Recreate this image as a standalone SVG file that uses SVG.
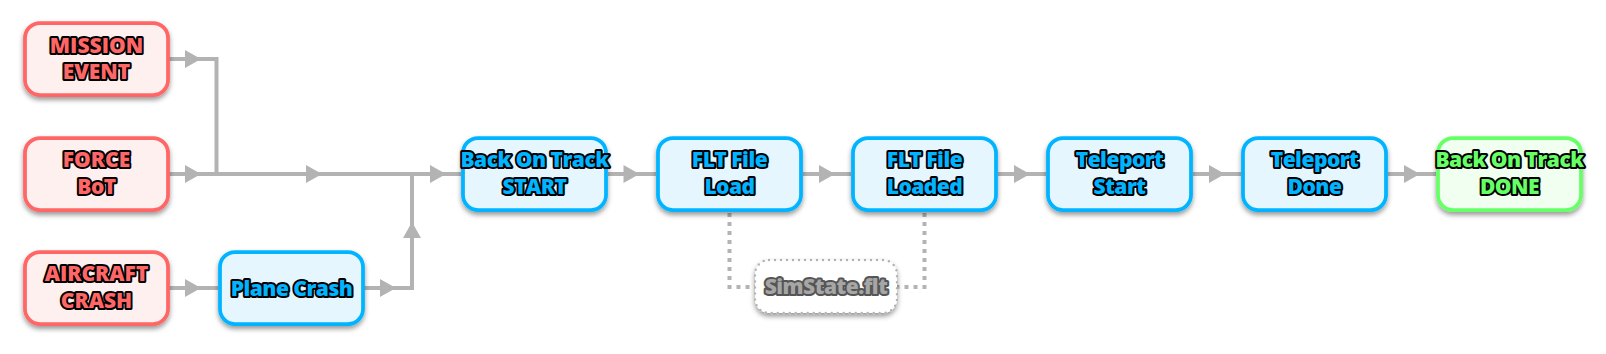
<svg xmlns="http://www.w3.org/2000/svg" xmlns:xlink="http://www.w3.org/1999/xlink" width="1606" height="354" viewBox="0 0 1606 354">
<defs>
<filter id="sh" x="-20%" y="-20%" width="140%" height="160%">
<feDropShadow dx="0" dy="3" stdDeviation="2.5" flood-color="#000" flood-opacity="0.4"/>
</filter>
<path id="ah" d="M-8,-9 L8,0 L-8,9 Z" fill="#B3B3B3"/>
</defs>
<style>
.box{stroke-width:3.75;filter:url(#sh)}
.red{fill:#FFF0F0;stroke:#FF6666}
.blue{fill:#E6F6FF;stroke:#00B4FF}
.green{fill:#F0FFF0;stroke:#66FF66}
.file{fill:#FFFFFF;stroke:#B3B3B3;stroke-width:2.5;stroke-dasharray:0 6;stroke-linecap:round;filter:url(#sh)}
text{font-family:"Open Sans","DejaVu Sans",sans-serif;font-weight:800;font-size:21px;letter-spacing:-0.5px;text-anchor:middle;paint-order:stroke;stroke:#000;stroke-width:4;stroke-linejoin:round}
.up{letter-spacing:0px}
.tr{fill:#FF6666}
.tb{fill:#00B4FF}
.tg{fill:#66FF66}
.tf{fill:#A6A6A6;stroke:#555555}
.ln{fill:none;stroke:#B3B3B3;stroke-width:4}
.dl{fill:none;stroke:#B3B3B3;stroke-width:4;stroke-dasharray:4 5}
</style>
<g id="connectors">
<path class="ln" d="M169,59 H216.5 V174 H461"/>
<path class="ln" d="M169,174 H461"/>
<path class="ln" d="M169,288 H218"/>
<path class="ln" d="M364,288 H412 V174 H461"/>
<path class="ln" d="M608,174 H656"/>
<path class="ln" d="M803,174 H851"/>
<path class="ln" d="M998,174 H1046"/>
<path class="ln" d="M1193,174 H1241"/>
<path class="ln" d="M1388,174 H1436"/>
<path class="dl" d="M729.5,213 V287 H755"/>
<path class="dl" d="M924.5,213 V287 H897"/>
<use xlink:href="#ah" transform="translate(193,59)"/>
<use xlink:href="#ah" transform="translate(193,174)"/>
<use xlink:href="#ah" transform="translate(193,288)"/>
<use xlink:href="#ah" transform="translate(314,174)"/>
<use xlink:href="#ah" transform="translate(388,288)"/>
<use xlink:href="#ah" transform="translate(412,230) rotate(-90)"/>
<use xlink:href="#ah" transform="translate(438,174)"/>
<use xlink:href="#ah" transform="translate(631.5,174)"/>
<use xlink:href="#ah" transform="translate(827,174)"/>
<use xlink:href="#ah" transform="translate(1022,174)"/>
<use xlink:href="#ah" transform="translate(1217,174)"/>
<use xlink:href="#ah" transform="translate(1412,174)"/>
</g>
<g id="mission-event">
<rect class="box red" x="25" y="23" width="143" height="72" rx="15"/>
<text class="tr up" x="96.5" y="52.5">MISSION</text>
<text class="tr up" x="96.5" y="79">EVENT</text>
</g>
<g id="force-bot">
<rect class="box red" x="25" y="138" width="143" height="72" rx="15"/>
<text class="tr up" x="96.5" y="167">FORCE</text>
<text class="tr" x="96.5" y="193.5">BoT</text>
</g>
<g id="aircraft-crash">
<rect class="box red" x="25" y="252" width="143" height="72" rx="15"/>
<text class="tr up" x="96.5" y="281">AIRCRAFT</text>
<text class="tr up" x="96.5" y="307.5">CRASH</text>
</g>
<g id="plane-crash">
<rect class="box blue" x="220" y="252" width="143" height="72" rx="15"/>
<text class="tb" x="291.5" y="295.5">Plane Crash</text>
</g>
<g id="bot-start">
<rect class="box blue" x="463" y="138" width="143" height="72" rx="15"/>
<text class="tb" x="534.5" y="167">Back On Track</text>
<text class="tb" x="534.5" y="193.5">START</text>
</g>
<g id="flt-load">
<rect class="box blue" x="658" y="138" width="143" height="72" rx="15"/>
<text class="tb" x="729.5" y="167">FLT File</text>
<text class="tb" x="729.5" y="193.5">Load</text>
</g>
<g id="flt-loaded">
<rect class="box blue" x="853" y="138" width="143" height="72" rx="15"/>
<text class="tb" x="924.5" y="167">FLT File</text>
<text class="tb" x="924.5" y="193.5">Loaded</text>
</g>
<g id="teleport-start">
<rect class="box blue" x="1048" y="138" width="143" height="72" rx="15"/>
<text class="tb" x="1119.5" y="167">Teleport</text>
<text class="tb" x="1119.5" y="193.5">Start</text>
</g>
<g id="teleport-done">
<rect class="box blue" x="1243" y="138" width="143" height="72" rx="15"/>
<text class="tb" x="1314.5" y="167">Teleport</text>
<text class="tb" x="1314.5" y="193.5">Done</text>
</g>
<g id="bot-done">
<rect class="box green" x="1438" y="138" width="143" height="72" rx="15"/>
<text class="tg" x="1509.5" y="167">Back On Track</text>
<text class="tg" x="1509.5" y="193.5">DONE</text>
</g>
<g id="simstate">
<rect class="file" x="755" y="260" width="142" height="53" rx="14"/>
<text class="tf" x="826" y="293.5">SimState.flt</text>
</g>
</svg>
